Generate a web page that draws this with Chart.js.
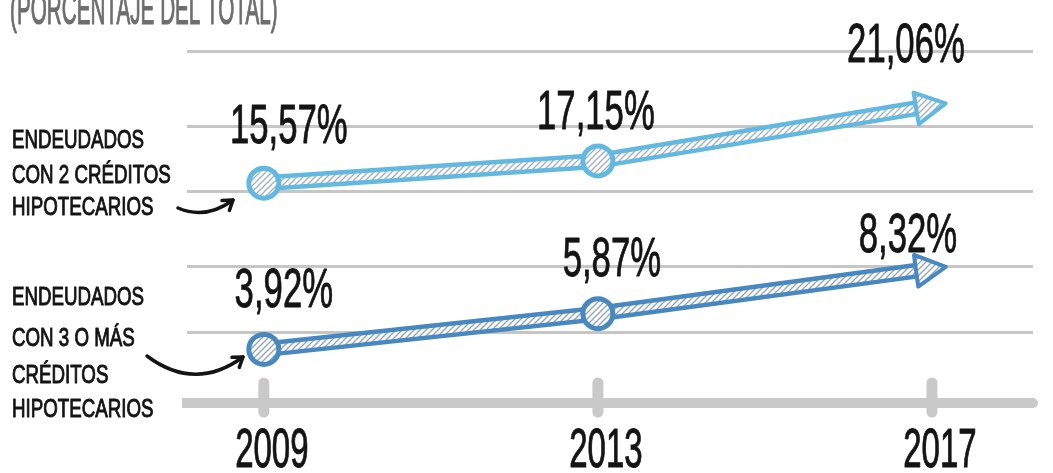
<!DOCTYPE html>
<html lang="es">
<head>
<meta charset="utf-8">
<title>Endeudados con créditos hipotecarios</title>
<script src="https://cdn.jsdelivr.net/npm/chart.js@4.4.1/dist/chart.umd.min.js"></script>
<style>
    html, body { margin: 0; padding: 0; background: #ffffff; }
    #wrap { width: 1053px; height: 473px; }
</style>
</head>
<body>
<div id="wrap"><canvas id="creditChart" width="1053" height="473"></canvas></div>
<script>
// data
const years = [2009, 2013, 2017];
const yearTickLabels = ['2009', '2013', '2017'];
const dosCreditos = [15.57, 17.15, 21.06];
const tresOMasCreditos = [3.92, 5.87, 8.32];
const guideTicks = [5, 9.7, 15, 19.6, 24.9];
const titleText = '(PORCENTAJE DEL TOTAL)';
const dosLabelLines = ['ENDEUDADOS', 'CON 2 CRÉDITOS', 'HIPOTECARIOS'];
const tresLabelLines = ['ENDEUDADOS', 'CON 3 O MÁS', 'CRÉDITOS', 'HIPOTECARIOS'];

const lightBlue = '#62b8df';
const darkBlue = '#4888c0';
const inkColor = '#141414';
const fontFamily = '"Liberation Sans", Arial, sans-serif';

function makeHatch(ctx, stripe) {
    const c = document.createElement('canvas');
    c.width = 6;
    c.height = 6;
    const g = c.getContext('2d');
    g.fillStyle = '#ffffff';
    g.fillRect(0, 0, 6, 6);
    g.strokeStyle = stripe;
    g.lineWidth = 1.3;
    g.beginPath();
    g.moveTo(0, 6); g.lineTo(6, 0);
    g.moveTo(-3, 3); g.lineTo(3, -3);
    g.moveTo(3, 9); g.lineTo(9, 3);
    g.stroke();
    return ctx.createPattern(c, 'repeat');
}

// narrow "hand lettering": normal font squeezed horizontally, optionally thickened
function squeezedText(ctx, text, x, y, size, squeeze, align, weight, thicken) {
    ctx.save();
    ctx.font = (weight || 'normal') + ' ' + size + 'px ' + fontFamily;
    ctx.textAlign = 'left';
    ctx.textBaseline = 'alphabetic';
    const w = ctx.measureText(text).width * squeeze;
    let left = x;
    if (align === 'center') left = x - w / 2;
    else if (align === 'right') left = x - w;
    ctx.translate(left, y);
    ctx.scale(squeeze, 1);
    ctx.fillText(text, 0, 0);
    if (thicken) {
        ctx.strokeStyle = ctx.fillStyle;
        ctx.lineWidth = thicken;
        ctx.lineJoin = 'round';
        ctx.strokeText(text, 0, 0);
    }
    ctx.restore();
}

function formatPct(v) {
    return v.toFixed(2).replace('.', ',') + '%';
}

function drawArrowHead(ctx, p0, p1, color, hatch) {
    const dx = p1.x - p0.x, dy = p1.y - p0.y;
    const len = Math.hypot(dx, dy);
    const ux = dx / len, uy = dy / len;
    const nx = -uy, ny = ux;
    const tip = { x: p1.x + ux * 14, y: p1.y + uy * 14 };
    const base = { x: tip.x - ux * 30, y: tip.y - uy * 30 };
    ctx.save();
    ctx.beginPath();
    ctx.moveTo(tip.x, tip.y);
    ctx.lineTo(base.x + nx * 16, base.y + ny * 16);
    ctx.lineTo(base.x - nx * 16, base.y - ny * 16);
    ctx.closePath();
    ctx.fillStyle = hatch;
    ctx.fill();
    ctx.strokeStyle = color;
    ctx.lineWidth = 4;
    ctx.lineJoin = 'round';
    ctx.stroke();
    ctx.restore();
}

function drawCurvedArrow(ctx, from, ctrl, to) {
    ctx.save();
    ctx.strokeStyle = inkColor;
    ctx.lineWidth = 3.5;
    ctx.lineCap = 'round';
    ctx.lineJoin = 'round';
    ctx.beginPath();
    ctx.moveTo(from.x, from.y);
    ctx.quadraticCurveTo(ctrl.x, ctrl.y, to.x, to.y);
    ctx.stroke();
    const a = Math.atan2(to.y - ctrl.y, to.x - ctrl.x);
    ctx.beginPath();
    ctx.moveTo(to.x - 11 * Math.cos(a - 0.6), to.y - 11 * Math.sin(a - 0.6));
    ctx.lineTo(to.x, to.y);
    ctx.lineTo(to.x - 11 * Math.cos(a + 0.6), to.y - 11 * Math.sin(a + 0.6));
    ctx.stroke();
    ctx.restore();
}

const canvas = document.getElementById('creditChart');
const ctx = canvas.getContext('2d');
const lightHatch = makeHatch(ctx, '#9fb0bd');
const darkHatch = makeHatch(ctx, '#8fa3b4');

const seriesStyle = [
    { values: dosCreditos, axis: 'yDos', color: lightBlue, hatch: lightHatch,
      offsets: [{ dx: 25, dy: 40 }, { dx: -2, dy: 32 }, { dx: -26, dy: 44 }] },
    { values: tresOMasCreditos, axis: 'yTres', color: darkBlue, hatch: darkHatch,
      offsets: [{ dx: 20, dy: 42 }, { dx: 14, dy: 38 }, { dx: -24, dy: 17 }] }
];

function toPoints(values) {
    return years.map((yr, i) => ({ x: yr, y: values[i] }));
}

const datasets = [];
seriesStyle.forEach(s => {
    const last = s.values.length - 1;
    datasets.push({
        label: 'puntos',
        data: toPoints(s.values),
        yAxisID: s.axis,
        showLine: false,
        pointRadius: c => (c.dataIndex === last ? 0 : 15),
        pointBorderWidth: 5,
        pointBorderColor: s.color,
        pointBackgroundColor: s.hatch,
        order: 0
    });
    datasets.push({
        label: 'relleno',
        data: toPoints(s.values),
        yAxisID: s.axis,
        borderColor: s.hatch,
        borderWidth: 7,
        pointRadius: 0,
        order: 1
    });
    datasets.push({
        label: 'contorno',
        data: toPoints(s.values),
        yAxisID: s.axis,
        borderColor: s.color,
        borderWidth: 16,
        borderCapStyle: 'round',
        borderJoinStyle: 'round',
        pointRadius: 0,
        order: 2
    });
});

const sketchDecor = {
    id: 'sketchDecor',
    beforeDatasetsDraw(chart) {
        const c = chart.ctx;
        const area = chart.chartArea;
        const xScale = chart.scales.x;
        c.save();
        c.fillStyle = '#c9c9c9';
        c.beginPath();
        c.arc(area.left, area.bottom, 5, 0, Math.PI * 2);
        c.arc(area.right, area.bottom, 5, 0, Math.PI * 2);
        c.fill();
        c.strokeStyle = '#c9c9c9';
        c.lineWidth = 11;
        c.lineCap = 'round';
        xScale.ticks.forEach(t => {
            const px = xScale.getPixelForValue(t.value);
            c.beginPath();
            c.moveTo(px, area.bottom - 20);
            c.lineTo(px, area.bottom + 9);
            c.stroke();
        });
        c.restore();
    },
    afterDatasetsDraw(chart) {
        const c = chart.ctx;
        seriesStyle.forEach((s, k) => {
            const pts = chart.getDatasetMeta(k * 3).data;
            const n = pts.length;
            drawArrowHead(c, pts[n - 2], pts[n - 1], s.color, s.hatch);
        });
    },
    afterDraw(chart) {
        const c = chart.ctx;
        const xScale = chart.scales.x;
        c.save();
        c.fillStyle = '#6e6e6e';
        squeezedText(c, titleText, 10, 24, 44, 0.47, 'left', 'normal', 1.2);

        c.fillStyle = inkColor;
        // value labels
        seriesStyle.forEach((s, k) => {
            const pts = chart.getDatasetMeta(k * 3).data;
            s.values.forEach((v, i) => {
                const o = s.offsets[i];
                squeezedText(c, formatPct(v), pts[i].x + o.dx, pts[i].y - o.dy, 56, 0.62, 'center', 'normal', 0.9);
            });
        });

        // year labels under the axis
        xScale.ticks.forEach((t, i) => {
            const px = xScale.getPixelForValue(t.value);
            squeezedText(c, yearTickLabels[i], px + 8, 467, 55, 0.6, 'center', 'normal', 1);
        });

        // series names on the left
        const dosBase = [148, 183, 215];
        dosLabelLines.forEach((line, i) => squeezedText(c, line, 12, dosBase[i], 26, 0.72, 'left', 'normal', 1));
        const tresBase = [305, 346, 383, 417];
        tresLabelLines.forEach((line, i) => squeezedText(c, line, 12, tresBase[i], 26, 0.72, 'left', 'normal', 1));

        drawCurvedArrow(c, { x: 178, y: 208 }, { x: 206, y: 220 }, { x: 233, y: 200 });
        drawCurvedArrow(c, { x: 147, y: 356 }, { x: 195, y: 392 }, { x: 243, y: 357 });
        c.restore();
    }
};

new Chart(ctx, {
    type: 'line',
    data: { datasets: datasets },
    options: {
        responsive: false,
        animation: false,
        events: [],
        layout: { padding: { left: 187, right: 11, top: 36, bottom: 70 } },
        plugins: {
            legend: { display: false },
            tooltip: { enabled: false }
        },
        scales: {
            x: {
                type: 'linear',
                min: 2008.08,
                max: 2018.21,
                afterBuildTicks: scale => { scale.ticks = years.map(v => ({ value: v })); },
                ticks: { display: false },
                grid: { display: false, drawTicks: false },
                border: { display: true, color: '#c9c9c9', width: 10 }
            },
            yDos: {
                type: 'linear',
                position: 'left',
                min: 0,
                max: 26,
                afterBuildTicks: scale => { scale.ticks = guideTicks.map(v => ({ value: v })); },
                ticks: { display: false },
                grid: { color: '#c6c6c6', lineWidth: 3, drawTicks: false },
                border: { display: false }
            },
            yTres: {
                type: 'linear',
                position: 'left',
                min: 1,
                max: 21,
                display: false
            }
        }
    },
    plugins: [sketchDecor]
});
</script>
</body>
</html>
